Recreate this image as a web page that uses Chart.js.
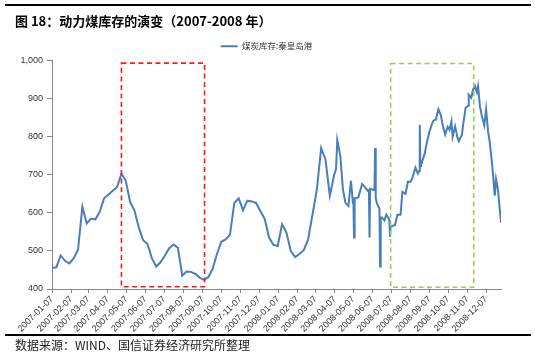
<!DOCTYPE html>
<html><head><meta charset="utf-8">
<script src="https://cdn.jsdelivr.net/npm/chart.js@4.4.0/dist/chart.umd.min.js"></script>
<style>
html,body{margin:0;padding:0;background:#fff;}
#wrap{position:relative;width:535px;height:357px;overflow:hidden;background:#fff;}
#c{position:absolute;left:0;top:0;z-index:1;}
.rule{position:absolute;left:5px;width:526px;height:2px;background:#000;z-index:4;display:block;}
#title{position:absolute;left:15px;top:12px;font-family:"Noto Sans CJK SC",sans-serif;font-weight:bold;font-size:13px;line-height:17px;color:#000;white-space:nowrap;z-index:3;}
#source{position:absolute;left:15px;top:337px;font-family:"Noto Sans CJK SC",sans-serif;font-size:12px;line-height:16px;color:#222;white-space:nowrap;z-index:3;}
</style></head>
<body>
<div id="wrap">
<canvas id="c" width="535" height="357"></canvas>
<div class="rule" style="top:4px"></div>
<div id="title">图 18：动力煤库存的演变（2007-2008 年）</div>
<div class="rule" style="top:334px"></div>
<div id="source">数据来源：WIND、国信证券经济研究所整理</div>
</div>
<script>
const seriesName = '煤炭库存:秦皇岛港';
const dates = [
'2007-01-07','2007-01-14','2007-01-21','2007-01-28','2007-02-04','2007-02-11','2007-02-18','2007-02-25',
'2007-03-04','2007-03-11','2007-03-18','2007-03-25','2007-04-01','2007-04-08','2007-04-15','2007-04-22','2007-04-29',
'2007-05-06','2007-05-13','2007-05-20','2007-05-27','2007-06-03','2007-06-10','2007-06-17','2007-06-24',
'2007-07-01','2007-07-08','2007-07-15','2007-07-22','2007-07-29','2007-08-05','2007-08-12','2007-08-19','2007-08-26',
'2007-09-02','2007-09-09','2007-09-16','2007-09-23','2007-09-30','2007-10-07','2007-10-14','2007-10-21','2007-10-28',
'2007-11-04','2007-11-11','2007-11-18','2007-11-25','2007-12-02','2007-12-09','2007-12-16','2007-12-23','2007-12-30',
'2008-01-06','2008-01-13','2008-01-20','2008-01-27','2008-02-03','2008-02-10','2008-02-17','2008-02-24',
'2008-03-02','2008-03-09','2008-03-16','2008-03-23','2008-03-30','2008-04-06',
'2008-04-09','2008-04-11','2008-04-16','2008-04-20','2008-04-24','2008-04-29','2008-05-03','2008-05-06','2008-05-07',
'2008-05-08','2008-05-09','2008-05-11','2008-05-15','2008-05-21','2008-05-25','2008-05-30','2008-06-01','2008-06-02',
'2008-06-03','2008-06-09','2008-06-10','2008-06-11','2008-06-12','2008-06-14','2008-06-17','2008-06-18','2008-06-19',
'2008-06-20','2008-06-22','2008-06-26','2008-06-29','2008-07-03','2008-07-04','2008-07-05','2008-07-06','2008-07-08',
'2008-07-13','2008-07-17','2008-07-22','2008-07-25','2008-07-30','2008-08-03','2008-08-07','2008-08-10','2008-08-15',
'2008-08-19','2008-08-21','2008-08-22','2008-08-23','2008-08-24','2008-08-30','2008-09-03','2008-09-07','2008-09-10',
'2008-09-13','2008-09-17','2008-09-21','2008-09-25','2008-09-28','2008-10-02','2008-10-06','2008-10-09','2008-10-12',
'2008-10-14','2008-10-18','2008-10-22','2008-10-24','2008-10-29','2008-10-31','2008-11-04','2008-11-08','2008-11-09',
'2008-11-13','2008-11-16','2008-11-19','2008-11-22','2008-11-24','2008-11-27','2008-11-30','2008-12-04','2008-12-07',
'2008-12-10','2008-12-13','2008-12-17','2008-12-21','2008-12-23','2008-12-26','2008-12-31'
];
const stock = [
455,457,488,474,467,481,503,616,
572,585,583,603,638,648,658,668,703,
684,628,606,561,528,518,481,459,
470,488,507,517,508,435,446,445,440,
430,424,431,453,492,524,530,543,626,
638,607,632,630,626,605,584,535,516,
513,570,548,500,484,492,502,530,
595,660,770,740,645,700,
715,791,749,663,627,618,684,630,632,
535,638,638,641,676,669,658,660,535,
663,660,662,770,638,625,614,612,459,
588,588,580,595,585,580,537,565,565,
568,595,595,655,650,682,681,691,719,
703,710,831,722,725,756,789,815,830,
842,845,872,857,830,806,826,818,840,
800,827,796,788,805,832,876,881,910,
902,924,933,917,933,880,855,830,872,
815,784,722,645,689,662,574
];
const xTickLabels = [
'2007-01-07','2007-02-07','2007-03-07','2007-04-07','2007-05-07','2007-06-07','2007-07-07','2007-08-07',
'2007-09-07','2007-10-07','2007-11-07','2007-12-07','2008-01-07','2008-02-07','2008-03-07','2008-04-07',
'2008-05-07','2008-06-07','2008-07-07','2008-08-07','2008-09-07','2008-10-07','2008-11-07','2008-12-07'
];
const xRange = ['2007-01-07','2008-12-31'];
const yTicks = [400,500,600,700,800,900,1000];
// highlighted periods: [from, to, low, high]
const redBox = ['2007-04-29','2007-09-10',406,993];
const greenBox = ['2008-07-06','2008-11-17',404.5,992];

const lineColor = '#4A7EBB';
function dayNum(s){const p=s.split('-').map(Number);return Date.UTC(p[0],p[1]-1,p[2])/86400000;}
const points = dates.map((d,i)=>({x:dayNum(d),y:stock[i]}));

const boxPlugin = {
  id:'boxes',
  afterLayout(chart){ if(chart.legend){chart.legend.left+=16;chart.legend.right+=16;} },
  afterDatasetsDraw(chart){
    const {ctx, scales:{x,y}} = chart;
    [[redBox,'#ff1a1a'],[greenBox,'#92d050']].forEach(([b,col])=>{
      const x1=x.getPixelForValue(dayNum(b[0])), x2=x.getPixelForValue(dayNum(b[1]));
      const y1=y.getPixelForValue(b[3]), y2=y.getPixelForValue(b[2]);
      ctx.save();
      ctx.strokeStyle=col; ctx.lineWidth=1.6; ctx.setLineDash([5,3.5]);
      ctx.strokeRect(x1,y1,x2-x1,y2-y1);
      ctx.restore();
    });
  },
  afterDraw(chart){
    const ctx=chart.ctx;
    ctx.save(); ctx.setLineDash([]); ctx.strokeStyle='#000'; ctx.lineWidth=2;
    ctx.beginPath();
    ctx.moveTo(5,5); ctx.lineTo(531,5);
    ctx.moveTo(5,335); ctx.lineTo(531,335);
    ctx.stroke();
    ctx.restore();
  }
};

new Chart(document.getElementById('c'),{
  type:'line',
  data:{datasets:[{label:seriesName,data:points,borderColor:lineColor,backgroundColor:lineColor,
    borderWidth:2,pointRadius:0,tension:0,fill:false}]},
  options:{
    responsive:false,animation:false,
    layout:{padding:{left:0,right:34,top:32,bottom:0}},
    plugins:{
      legend:{display:true,position:'top',
        labels:{boxWidth:17,boxHeight:2,padding:10,color:'#333',font:{family:'"Noto Sans CJK SC", sans-serif',size:8.5},
          generateLabels:(chart)=>{const it=Chart.defaults.plugins.legend.labels.generateLabels(chart);
            it.forEach(i=>{i.lineWidth=0;i.fillStyle=lineColor;i.strokeStyle=lineColor;});return it;}}},
      tooltip:{enabled:false}
    },
    scales:{
      x:{type:'linear',min:dayNum(xRange[0]),max:dayNum(xRange[1]),
        afterBuildTicks:(ax)=>{ax.ticks=xTickLabels.map(l=>({value:dayNum(l)}));},
        afterFit:(ax)=>{ax.height=68;},
        ticks:{autoSkip:false,minRotation:45,maxRotation:45,padding:1,color:'#333',
          font:{family:'"Liberation Sans", Arial, sans-serif',size:9},
          callback:(v,i)=>xTickLabels[i]},
        grid:{display:true,drawOnChartArea:false,drawTicks:true,tickLength:4,color:'#888'},
        border:{color:'#888',width:1}},
      y:{min:400,max:1000,
        afterBuildTicks:(ax)=>{ax.ticks=yTicks.map(v=>({value:v}));},
        afterFit:(ax)=>{ax.width=52;},
        ticks:{padding:4,color:'#333',font:{family:'"Liberation Sans", Arial, sans-serif',size:9},
          callback:(v)=>v.toLocaleString('en-US')},
        grid:{display:true,drawOnChartArea:false,drawTicks:true,tickLength:5,color:'#888'},
        border:{color:'#888',width:1}}
    }
  },
  plugins:[boxPlugin]
});
</script>
</body></html>
